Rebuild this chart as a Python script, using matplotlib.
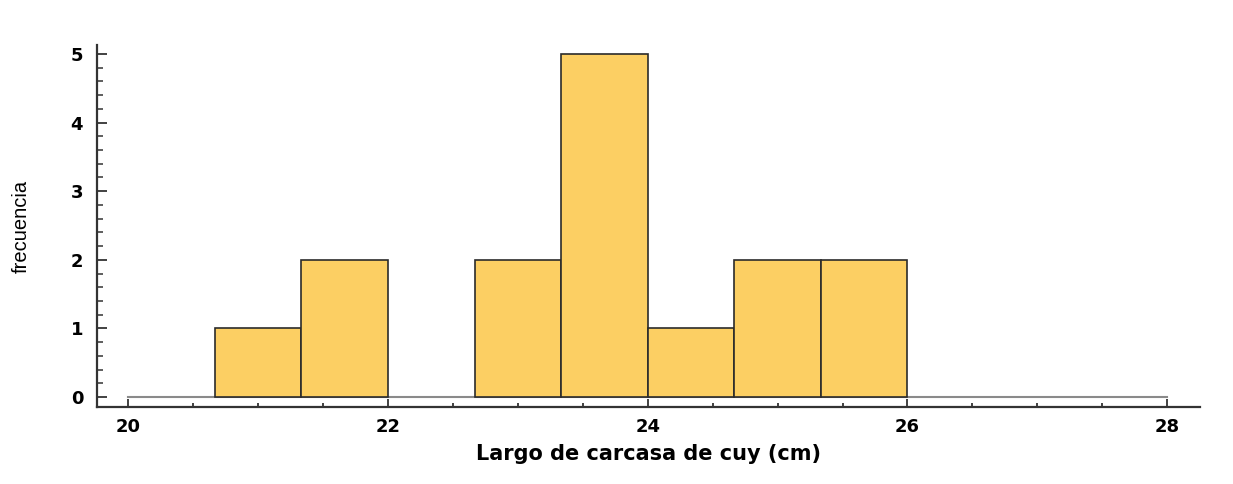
import matplotlib
matplotlib.use("Agg")
import matplotlib.pyplot as plt
import numpy as np
from matplotlib.ticker import MultipleLocator

bin_edges = [20 + i * 2 / 3 for i in range(13)]
counts = [0, 1, 2, 0, 2, 5, 1, 2, 2, 0, 0, 0]
x_ticks = [20, 22, 24, 26, 28]
y_ticks = [0, 1, 2, 3, 4, 5]

plt.rcParams['font.family'] = ['DejaVu Sans']

fig = plt.figure(figsize=(12.33, 4.84), dpi=100)
ax = fig.add_axes([0.0787, 0.159, 0.8943, 0.748])

lefts = np.array(bin_edges[:-1])
widths = np.diff(bin_edges)
h = np.array(counts)
mask = h > 0
ax.bar(lefts[mask], h[mask], width=widths[mask], align='edge',
       color='#FCCF63', edgecolor='#2b2b2b', linewidth=1.2, zorder=3)
ax.plot([bin_edges[0], bin_edges[-1]], [0, 0], color='#8a8a8a', lw=1.5, zorder=2)

ax.set_xlim(19.76, 28.25)
ax.set_ylim(-0.146, 5.13)
ax.set_xticks(x_ticks)
ax.set_yticks(y_ticks)
ax.xaxis.set_minor_locator(MultipleLocator(0.5))
ax.yaxis.set_minor_locator(MultipleLocator(0.2))

for s in ['top', 'right']:
    ax.spines[s].set_visible(False)
for s in ['left', 'bottom']:
    ax.spines[s].set_linewidth(1.6)
    ax.spines[s].set_color('#333333')

ax.tick_params(axis='y', which='major', direction='in', length=7, width=1.3, color='#333333', pad=10)
ax.tick_params(axis='y', which='minor', direction='in', length=4, width=1.1, color='#333333')
ax.tick_params(axis='x', which='major', direction='in', length=6, width=1.3, color='#333333', pad=8)
ax.tick_params(axis='x', which='minor', direction='in', length=3, width=1.3, color='#333333')

for lab in ax.get_xticklabels() + ax.get_yticklabels():
    lab.set_fontweight('bold')
    lab.set_fontsize(13)

ax.set_xlabel('Largo de carcasa de cuy (cm)', fontsize=15, fontweight='bold', labelpad=6)
ax.set_ylabel('frecuencia', fontsize=14.5, family=['Liberation Sans', 'DejaVu Sans'], labelpad=29)

fig.savefig('out.png', dpi=100)
